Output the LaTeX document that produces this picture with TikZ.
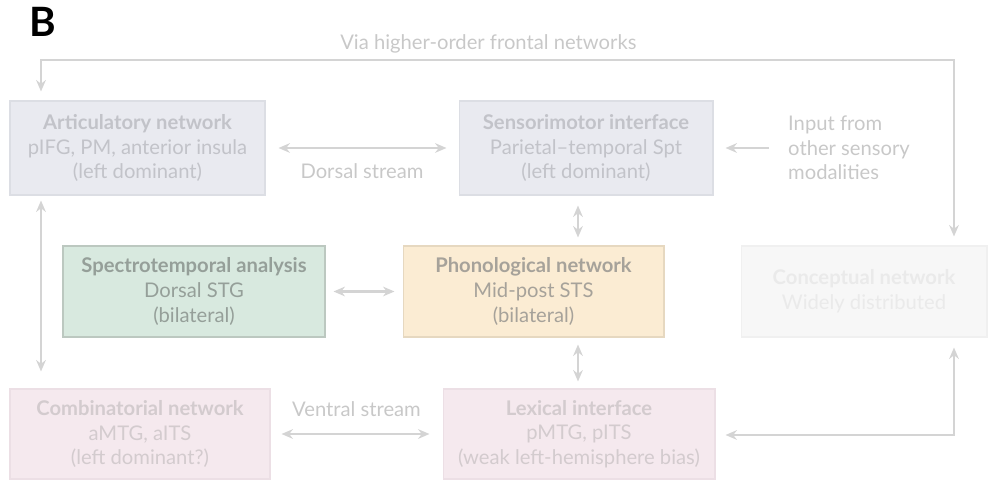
\documentclass[tikz,border=0pt]{standalone}
\usepackage{fontspec}
\setmainfont{Lato}
\usetikzlibrary{calc,arrows.meta}
\definecolor{linkgray}{HTML}{D4D4D4}
\definecolor{labgray}{HTML}{C8C8C8}
\definecolor{bluefill}{HTML}{E9EAF0}
\definecolor{blueline}{HTML}{DCDEE4}
\definecolor{bluetext}{HTML}{C2C3C9}
\definecolor{greenfill}{HTML}{D8E9DF}
\definecolor{greenline}{HTML}{BCC8C0}
\definecolor{greentext}{HTML}{959F99}
\definecolor{orangefill}{HTML}{FBECD3}
\definecolor{orangeline}{HTML}{E6D8C0}
\definecolor{orangetext}{HTML}{A6A29A}
\definecolor{greyfill}{HTML}{F7F7F7}
\definecolor{greyline}{HTML}{F0F0F0}
\definecolor{greytext}{HTML}{EAEAEA}
\definecolor{pinkfill}{HTML}{F5E9EE}
\definecolor{pinkline}{HTML}{ECDFE5}
\definecolor{pinktext}{HTML}{D3CBCE}
\tikzset{
    netbox/.style={draw, line width=0.6pt, align=center, inner sep=0pt,
      font=\fontsize{11.5}{14}\selectfont},
    link/.style={draw=linkgray, line width=1.2pt,
      {Stealth[length=6.5pt,width=5.5pt]}-{Stealth[length=6.5pt,width=5.5pt]}},
    onelink/.style={draw=linkgray, line width=1.2pt, -{Stealth[length=6.5pt,width=5.5pt]}},
    streamlabel/.style={text=labgray, font=\fontsize{11.5}{14}\selectfont},
  }

\begin{document}
\begin{tikzpicture}[x=0.02cm, y=-0.02cm]
				  %one unit = one pixel of the sketch, y downwards
				  \useasboundingbox (0,0) rectangle (988,481);
				  \coordinate(lx) at (41,0);
				  \coordinate(mx) at (578,0);
				  \coordinate(rx) at (954,0);
				  \coordinate(top) at (0,60);
				  \coordinate(bot) at (0,435);

				  \node[font=\fontsize{23}{26}\bfseries] (letter) at (43,22) {B};

				  %boxes
				  \node[netbox, fill=bluefill, draw=blueline, text=bluetext, minimum width=5.1cm, minimum height=1.88cm]
				    (artic) at (137.5,148) {\textbf{Articulatory network}\\pIFG, PM, anterior insula\\(left dominant)};
				  \node[netbox, fill=bluefill, draw=blueline, text=bluetext, minimum width=5.08cm, minimum height=1.88cm]
				    (senso) at (586,148) {\textbf{Sensorimotor interface}\\Parietal--temporal Spt\\(left dominant)};
				  \node[netbox, fill=greenfill, draw=greenline, text=greentext, minimum width=5.24cm, minimum height=1.82cm]
				    (spectro) at (194,291.5) {\textbf{Spectrotemporal analysis}\\Dorsal STG\\(bilateral)};
				  \node[netbox, fill=orangefill, draw=orangeline, text=orangetext, minimum width=5.22cm, minimum height=1.82cm]
				    (phono) at (533.5,291.5) {\textbf{Phonological network}\\Mid-post STS\\(bilateral)};
				  \node[netbox, fill=greyfill, draw=greyline, text=greytext, minimum width=4.92cm, minimum height=1.82cm]
				    (concept) at (864,291.5) {\textbf{Conceptual network}\\Widely distributed};
				  \node[netbox, fill=pinkfill, draw=pinkline, text=pinktext, minimum width=5.2cm, minimum height=1.8cm]
				    (combin) at (140,434) {\textbf{Combinatorial network}\\aMTG, aITS\\(left dominant?)};
				  \node[netbox, fill=pinkfill, draw=pinkline, text=pinktext, minimum width=5.44cm, minimum height=1.8cm]
				    (lexic) at (579,434) {\textbf{Lexical interface}\\pMTG, pITS\\(weak left-hemisphere bias)};

				  \node[streamlabel, align=left, anchor=west] (input) at (782,148) {Input from\\other sensory\\modalities};

				  %connectors
				  \draw[link, shorten <=2.6mm, shorten >=2.4mm] (artic) -- (senso)
				    node[streamlabel, midway, below=5pt] (dorsal) {Dorsal stream};
				  \draw[link, shorten <=2.2mm, shorten >=2.6mm] (combin) -- (lexic)
				    node[streamlabel, midway, above=6pt] (ventral) {Ventral stream};
				  \draw[onelink, shorten <=2.6mm, shorten >=2.4mm] (input.west) -- (input.west -| senso.east);
				  \draw[link, shorten <=1.6mm, shorten >=1.6mm] (spectro) -- (phono);
				  \draw[link, shorten <=2mm, shorten >=1.6mm] (senso.south -| mx) -- (phono.north -| mx);
				  \draw[link, shorten <=1.4mm, shorten >=1.4mm] (phono.south -| mx) -- (lexic.north -| mx);
				  \draw[link, shorten <=1mm, shorten >=3.4mm] (artic.south -| lx) -- (combin.north -| lx);
				  \draw[link, shorten <=1.8mm, shorten >=1.8mm] (artic.north -| lx) -- (lx |- top) -- (rx |- top)
				    node[streamlabel, pos=0.49, above=0pt] (via) {Via higher-order frontal networks}
				    -- (concept.north -| rx);
				  \draw[link, shorten <=2mm, shorten >=2mm] (lexic.east |- bot) -- (rx |- bot) -- (concept.south -| rx);
				  \end{tikzpicture}
\end{document}
